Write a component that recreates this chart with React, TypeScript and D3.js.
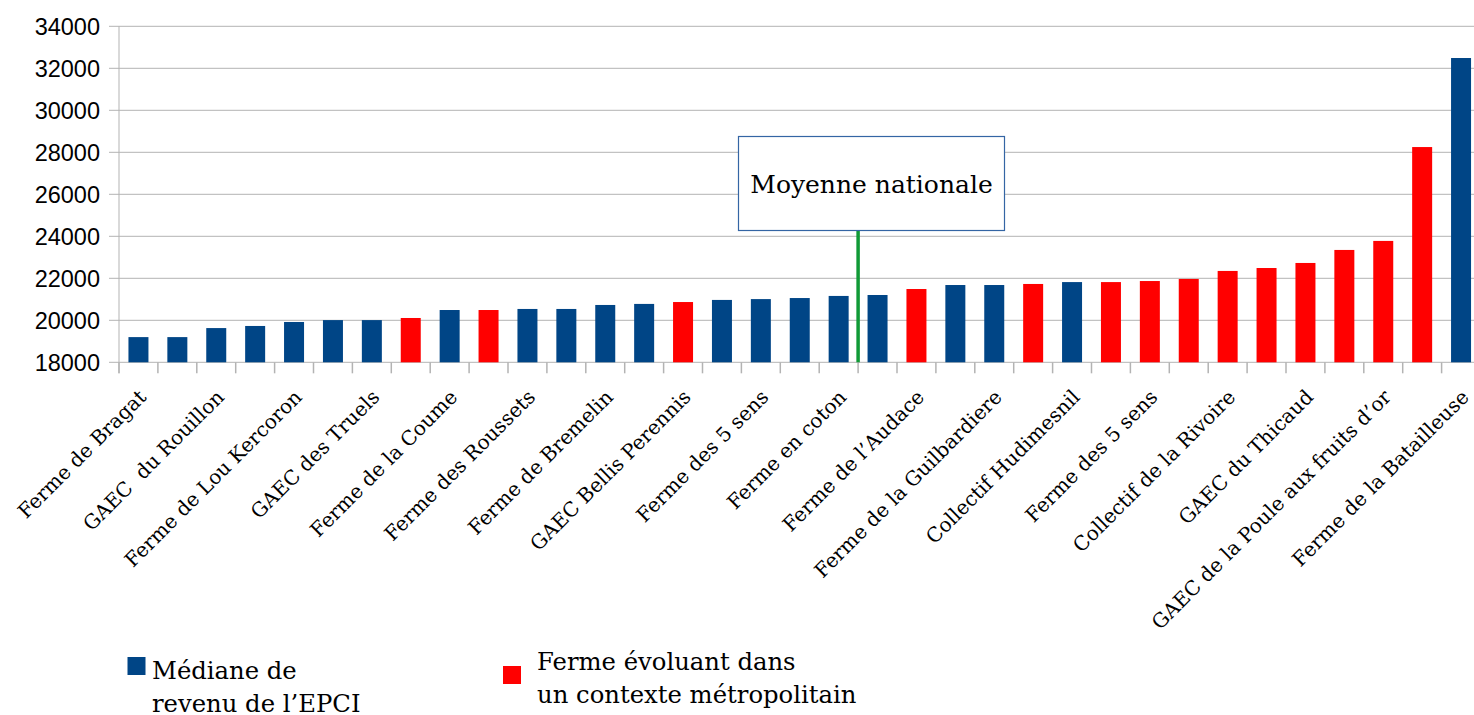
import React, { useRef, useEffect } from "react";
import * as d3 from "d3";

// one label every other bar, the others are hidden in the source chart
const categories = [
  "Ferme de Bragat", "", "GAEC  du Rouillon", "", "Ferme de Lou Kercoron", "",
  "GAEC des Truels", "", "Ferme de la Coume", "", "Ferme des Roussets", "",
  "Ferme de Bremelin", "", "GAEC Bellis Perennis", "", "Ferme des 5 sens", "",
  "Ferme en coton", "", "Ferme de l\u2019Audace", "", "Ferme de la Guilbardiere", "",
  "Collectif Hudimesnil", "", "Ferme des 5 sens", "", "Collectif de la Rivoire", "",
  "GAEC du Thicaud", "", "GAEC de la Poule aux fruits d\u2019or", "", "Ferme de la Batailleuse",
];

const values = [
  19200, 19200, 19630, 19730, 19920, 20010, 20010, 20110, 20490, 20490,
  20540, 20540, 20730, 20780, 20870, 20970, 21010, 21060, 21160, 21205,
  21490, 21680, 21680, 21730, 21820, 21820, 21870, 21970, 22350, 22490,
  22730, 23350, 23780, 28250, 32490,
];

// E = médiane EPCI, M = contexte métropolitain
const groups = [
  "E", "E", "E", "E", "E", "E", "E", "M", "E", "M",
  "E", "E", "E", "E", "M", "E", "E", "E", "E", "E",
  "M", "E", "E", "M", "E", "M", "M", "M", "M", "M",
  "M", "M", "M", "M", "E",
];

const yTicks = [18000, 20000, 22000, 24000, 26000, 28000, 30000, 32000, 34000];

const legendKeys = ["E", "M"];
const legendLabels = [
  ["Médiane de", "revenu de l\u2019EPCI"],
  ["Ferme évoluant dans", "un contexte métropolitain"],
];

const moyenneLabel = "Moyenne nationale";
const moyenneApres = 18; // trait vert après "Ferme en coton"

const App = () => {
  const chartRef = useRef<SVGSVGElement>(null);

  useEffect(() => {
    const svg = d3.select(chartRef.current);
    svg.selectAll("*").remove();

    const left = 119;
    const step = 38.9;
    const top = 26.3;
    const bottom = 362.3;
    const serif = "'DejaVu Serif', serif";
    const grid = "#b3b3b3";

    const color = d3.scaleOrdinal<string, string>().domain(legendKeys).range(["#004586", "#ff0000"]);

    const x = d3
      .scaleBand<number>()
      .domain(d3.range(values.length))
      .range([left, left + step * values.length])
      .paddingInner(0.486)
      .paddingOuter(0.243);

    const y = d3.scaleLinear().domain([18000, 34000]).range([bottom, top]);

    // gridlines + y labels
    const gy = svg.append("g");
    gy.selectAll("line")
      .data(yTicks)
      .enter()
      .append("line")
      .attr("x1", left - 10)
      .attr("x2", 1474)
      .attr("y1", (d) => y(d))
      .attr("y2", (d) => y(d))
      .attr("stroke", grid)
      .attr("stroke-width", 1);
    gy.selectAll("text")
      .data(yTicks)
      .enter()
      .append("text")
      .attr("x", 100)
      .attr("y", (d) => y(d))
      .attr("dy", "0.36em")
      .attr("text-anchor", "end")
      .style("font-family", "'Liberation Sans', Arial, sans-serif")
      .style("font-size", "23.5px")
      .style("fill", "#000")
      .text((d) => d);

    // y axis line
    svg.append("line")
      .attr("x1", left).attr("x2", left)
      .attr("y1", top).attr("y2", bottom + 11)
      .attr("stroke", grid);

    // x ticks at band boundaries
    svg.append("g")
      .selectAll("line")
      .data(d3.range(values.length + 1))
      .enter()
      .append("line")
      .attr("x1", (i) => left + step * i)
      .attr("x2", (i) => left + step * i)
      .attr("y1", bottom)
      .attr("y2", bottom + 11)
      .attr("stroke", grid)
      .attr("stroke-width", 1.5);

    // bars
    svg.append("g")
      .selectAll("rect")
      .data(values)
      .enter()
      .append("rect")
      .attr("x", (_, i) => x(i)!)
      .attr("y", (d) => y(d))
      .attr("width", x.bandwidth())
      .attr("height", (d) => bottom - y(d))
      .style("fill", (_, i) => color(groups[i]));

    // category labels
    svg.append("g")
      .selectAll("text")
      .data(categories)
      .enter()
      .append("text")
      .attr("transform", (_, i) => {
        const cx = x(i)! + x.bandwidth() / 2 + 9;
        return `translate(${cx},${bottom + 36}) rotate(-45)`;
      })
      .attr("text-anchor", "end")
      .style("font-family", serif)
      .style("font-size", "20px")
      .style("white-space", "pre")
      .style("fill", "#000")
      .text((d) => d);

    // national average marker
    const mx = left + step * (moyenneApres + 1);
    svg.append("line")
      .attr("x1", mx).attr("x2", mx)
      .attr("y1", 230).attr("y2", bottom)
      .attr("stroke", "#109a36")
      .attr("stroke-width", 3.5);
    svg.append("rect")
      .attr("x", 738.5).attr("y", 136.5)
      .attr("width", 266).attr("height", 94)
      .attr("fill", "#fff")
      .attr("stroke", "#3465a4")
      .attr("stroke-width", 1.2);
    svg.append("text")
      .attr("x", 871.5).attr("y", 193)
      .attr("text-anchor", "middle")
      .style("font-family", serif)
      .style("font-size", "25px")
      .style("fill", "#000")
      .text(moyenneLabel);

    // legend
    const legendPos = [
      { sx: 127.5, sy: 657, tx: 152, ty: 679 },
      { sx: 503, sy: 666, tx: 537, ty: 670 },
    ];
    const legend = svg.selectAll(".legend")
      .data(legendKeys)
      .enter()
      .append("g")
      .attr("class", "legend");
    legend.append("rect")
      .attr("x", (_, i) => legendPos[i].sx)
      .attr("y", (_, i) => legendPos[i].sy)
      .attr("width", 18)
      .attr("height", 18)
      .style("fill", (d) => color(d));
    legend.each(function (_, i) {
      const t = d3.select(this)
        .append("text")
        .style("font-family", serif)
        .style("font-size", "24.3px")
        .style("fill", "#000");
      legendLabels[i].forEach((line, j) => {
        t.append("tspan")
          .attr("x", legendPos[i].tx)
          .attr("y", legendPos[i].ty + j * 33)
          .text(line);
      });
    });
  }, []);

  return (
    <svg
      ref={chartRef}
      width={1474}
      height={715}
      style={{ position: "absolute", left: 0, top: 0, background: "#fff" }}
    />
  );
};

export default App;
